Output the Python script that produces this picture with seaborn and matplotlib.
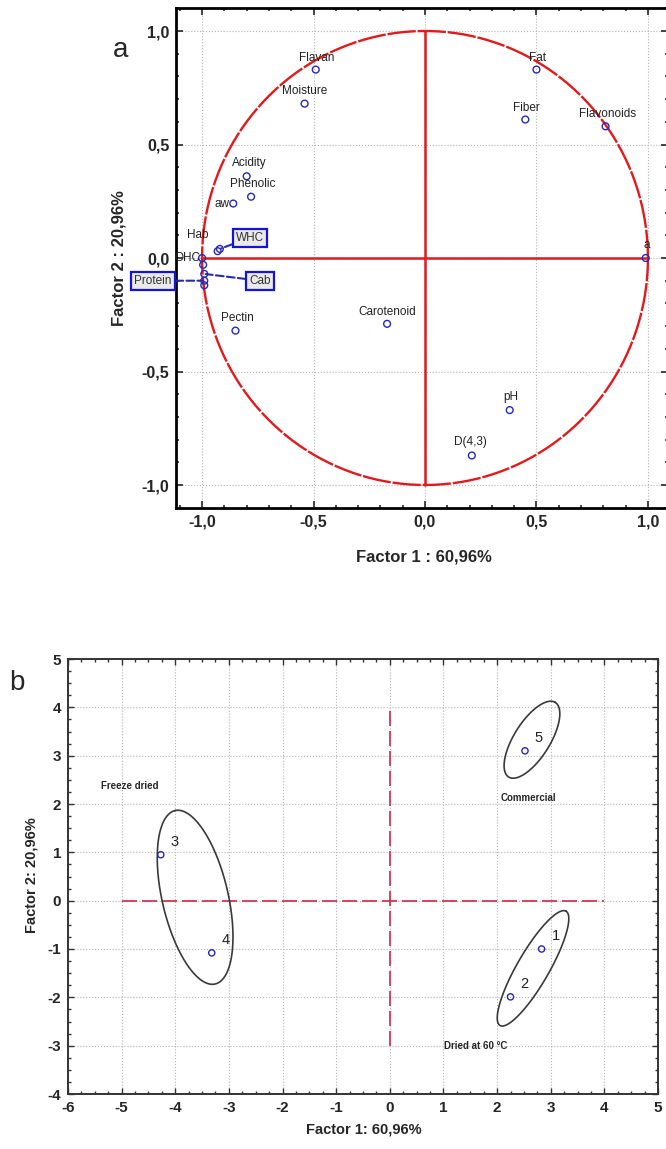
import numpy as np
import pandas as pd
import matplotlib
matplotlib.use("Agg")
import matplotlib.pyplot as plt
import seaborn as sns
from matplotlib.ticker import MultipleLocator, FuncFormatter

# ---- panel a : variable loadings ----
var_names = ["Flavan", "Moisture", "Fat", "Fiber", "Flavonoids", "a", "Acidity",
             "Phenolic", "aw", "Hab", "WHC", "OHC", "Cab", "Protein", "Pectin",
             "Carotenoid", "pH", "D(4,3)"]
factor1_a = [-0.49, -0.54, 0.50, 0.45, 0.81, 0.99, -0.80, -0.78, -0.86, -0.93,
             -0.92, -1.00, -0.99, -0.99, -0.85, -0.17, 0.38, 0.21]
factor2_a = [0.83, 0.68, 0.83, 0.61, 0.58, 0.00, 0.36, 0.27, 0.24, 0.03,
             0.04, 0.00, -0.07, -0.10, -0.32, -0.29, -0.67, -0.87]
# points hidden in the cluster near (-1, 0), no readable label
extra_f1 = [-0.995, -0.99]
extra_f2 = [-0.03, -0.12]
boxed_vars = ["WHC", "Protein", "Cab"]

# ---- panel b : sample scores ----
sample_ids = ["1", "2", "3", "4", "5"]
factor1_b = [2.83, 2.25, -4.27, -3.32, 2.52]
factor2_b = [-1.00, -1.99, 0.95, -1.08, 3.10]
group_names = ["Freeze dried", "Commercial", "Dried at 60 \u00b0C"]
group_x = [-5.39, 2.07, 1.01]
group_y = [2.38, 2.13, -3.00]
# confidence ellipses: centre (data), semi axes (pixels), angle (deg)
ell_cx = [-3.63, 2.67, 2.65]
ell_cy = [0.07, -1.40, 3.33]
ell_a = [89, 66, 44]
ell_b = [33, 16, 18]
ell_ang = [103, 60, 58]
ref_hline_x = [-5, 4]
ref_vline_y = [-3, 4]

blue = "#2828b8"
red = "#e3191c"

sns.set_theme(style="ticks")
plt.rcParams["font.family"] = ["Liberation Sans", "DejaVu Sans"]
plt.rcParams["axes.unicode_minus"] = False

fig = plt.figure(figsize=(6.66, 11.49), dpi=100)
W, H = 666, 1149

comma = FuncFormatter(lambda v, p: f"{v:.1f}".replace(".", ","))

# ================= panel a =================
ax1 = fig.add_axes([176.4 / W, 1 - 507.7 / H, (668 - 176.4) / W, 499.4 / H])
ax1.set_xlim(-1.115, 1.09)
ax1.set_ylim(-1.1, 1.1)
ax1.xaxis.set_major_locator(MultipleLocator(0.5))
ax1.yaxis.set_major_locator(MultipleLocator(0.5))
ax1.xaxis.set_minor_locator(MultipleLocator(0.1))
ax1.yaxis.set_minor_locator(MultipleLocator(0.1))
ax1.xaxis.set_major_formatter(comma)
ax1.yaxis.set_major_formatter(comma)
ax1.grid(True, which="major", ls=":", color="#b4b4b4", lw=0.8)
ax1.tick_params(which="both", direction="in", top=True, right=True, width=1.2)
ax1.tick_params(which="major", length=5, labelsize=11.5, pad=5)
ax1.tick_params(which="minor", length=2.5)
for lab in ax1.get_xticklabels() + ax1.get_yticklabels():
    lab.set_fontweight("bold")
for sp in ax1.spines.values():
    sp.set_linewidth(2)
    sp.set_color("black")

theta = np.linspace(0, 2 * np.pi, 500)
ax1.plot(np.cos(theta), np.sin(theta), color=red, lw=1.7, ls=(0, (12, 0.8)), zorder=3)
ax1.plot([-1, 1], [0, 0], color=red, lw=1.8, zorder=3)
ax1.plot([0, 0], [-1, 1], color=red, lw=1.8, zorder=3)

df_a = pd.DataFrame({"f1": factor1_a + extra_f1, "f2": factor2_a + extra_f2})
sns.scatterplot(data=df_a, x="f1", y="f2", ax=ax1, s=24, zorder=5, legend=False)
pts = ax1.collections[-1]
pts.set_facecolor("none")
pts.set_edgecolor(blue)
pts.set_linewidth(1.0)
ax1.set_xlabel("")
ax1.set_ylabel("")

label_offsets = {"Flavan": (1, 12), "Moisture": (0, 13), "Fat": (1, 12),
                 "Fiber": (1, 12), "Flavonoids": (2, 12), "a": (1, 13),
                 "Acidity": (3, 13), "Phenolic": (2, 13), "aw": (-4, 0),
                 "Hab": (-20, 16), "OHC": (-2, 0), "Pectin": (2, 13),
                 "Carotenoid": (0, 12), "pH": (1, 13), "D(4,3)": (-1, 13)}
box_pos = {"WHC": (-0.785, 0.09), "Protein": (-1.22, -0.10), "Cab": (-0.74, -0.10)}
box_style = dict(boxstyle="square,pad=0.25", fc="#eaeaea", ec="#1414d2", lw=1.6)

for name, x, y in zip(var_names, factor1_a, factor2_a):
    if name in boxed_vars:
        ax1.annotate(name, xy=(x, y), xytext=box_pos[name], textcoords="data",
                     ha="center", va="center", fontsize=8.5, color="#333333",
                     bbox=box_style, annotation_clip=False, zorder=6,
                     arrowprops=dict(arrowstyle="-", color=blue, ls="--", lw=1.5,
                                     shrinkA=0, shrinkB=1))
    else:
        dx, dy = label_offsets[name]
        ha = "right" if name in ("aw", "OHC") else "center"
        ax1.annotate(name, xy=(x, y), xytext=(dx, dy), textcoords="offset pixels",
                     ha=ha, va="center", fontsize=8.5, color="#222222",
                     annotation_clip=False, zorder=6)

fig.text(424 / W, 1 - 557 / H, "Factor 1 : 60,96%", ha="center", va="center",
         fontsize=12, fontweight="bold")
fig.text(119 / W, 1 - 258 / H, "Factor 2 : 20,96%", ha="center", va="center",
         rotation=90, fontsize=12, fontweight="bold")
fig.text(121 / W, 1 - 50 / H, "a", ha="center", va="center", fontsize=20)

# ================= panel b =================
ax2 = fig.add_axes([68 / W, 1 - 1094 / H, 590 / W, 435 / H])
xmin, xmax, ymin, ymax = -6, 5, -4, 5
ax2.set_xlim(xmin, xmax)
ax2.set_ylim(ymin, ymax)
ax2.xaxis.set_major_locator(MultipleLocator(1))
ax2.yaxis.set_major_locator(MultipleLocator(1))
ax2.xaxis.set_minor_locator(MultipleLocator(0.25))
ax2.yaxis.set_minor_locator(MultipleLocator(0.25))
ax2.grid(True, which="major", ls=":", color="#b4b4b4", lw=0.8)
ax2.tick_params(which="both", direction="in", top=True, right=True, width=1.0,
                color="#333333")
ax2.tick_params(which="major", length=4, labelsize=11, pad=5)
ax2.tick_params(which="minor", length=2)
for lab in ax2.get_xticklabels() + ax2.get_yticklabels():
    lab.set_fontweight("bold")
for sp in ax2.spines.values():
    sp.set_linewidth(1.4)
    sp.set_color("#333333")

ax2.plot(ref_hline_x, [0, 0], color="#d02848", lw=1.2, ls=(0, (9, 3)), zorder=2)
ax2.plot([0, 0], ref_vline_y, color="#d02848", lw=1.2, ls=(0, (9, 3)), zorder=2)

# pixel -> data scale for ellipse drawing
sx = 590 / (xmax - xmin)
sy = 435 / (ymax - ymin)
t = np.linspace(0, 2 * np.pi, 300)
for cx, cy, a, b, ang in zip(ell_cx, ell_cy, ell_a, ell_b, ell_ang):
    th = np.deg2rad(ang)
    px = a * np.cos(t) * np.cos(th) - b * np.sin(t) * np.sin(th)
    py = a * np.cos(t) * np.sin(th) + b * np.sin(t) * np.cos(th)
    ax2.plot(cx + px / sx, cy + py / sy, color="#3a3a3a", lw=1.2, zorder=3)

df_b = pd.DataFrame({"f1": factor1_b, "f2": factor2_b, "id": sample_ids})
sns.scatterplot(data=df_b, x="f1", y="f2", ax=ax2, s=20, zorder=5, legend=False)
pts2 = ax2.collections[-1]
pts2.set_facecolor("none")
pts2.set_edgecolor(blue)
pts2.set_linewidth(1.0)
ax2.set_xlabel("")
ax2.set_ylabel("")

for sid, x, y in zip(sample_ids, factor1_b, factor2_b):
    ax2.annotate(sid, xy=(x, y), xytext=(14, 13), textcoords="offset pixels",
                 ha="center", va="center", fontsize=10.5, color="#222222")

for g, x, y in zip(group_names, group_x, group_y):
    ax2.text(x, y, g, ha="left", va="center", fontsize=7, fontweight="bold")

fig.text(364 / W, 1 - 1130 / H, "Factor 1: 60,96%", ha="center", va="center",
         fontsize=10.5, fontweight="bold")
fig.text(31 / W, 1 - 875 / H, "Factor 2: 20,96%", ha="center", va="center",
         rotation=90, fontsize=10.5, fontweight="bold")
fig.text(17 / W, 1 - 683 / H, "b", ha="center", va="center", fontsize=20)

fig.savefig("out.png", dpi=100)
